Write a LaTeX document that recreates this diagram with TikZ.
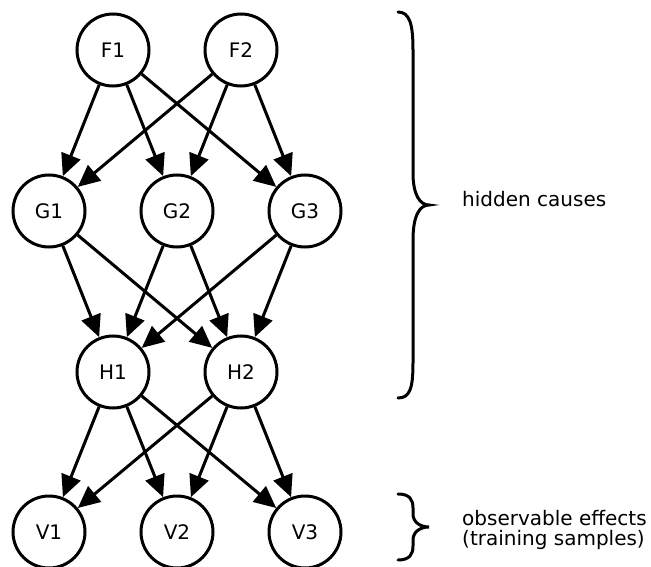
\documentclass[tikz,border=0pt]{standalone}
\usepackage{fontspec}
\setmainfont{DejaVu Sans}
\usetikzlibrary{arrows.meta}
\begin{document}
\begin{tikzpicture}[x=1pt,y=-1pt,
  unit/.style={circle,draw,line width=3pt,minimum size=72pt,inner sep=0pt,font=\fontsize{20}{24}\selectfont},
  edge/.style={line width=3pt,-{Triangle[length=22pt,width=20pt]}},
  bracepath/.style={line width=3pt,line cap=round},
  lbl/.style={font=\fontsize{20}{20}\selectfont,align=left,inner sep=0pt}]
\useasboundingbox (0,0) rectangle (651,567);
\node[unit] (F1) at (113,50) {F1};
\node[unit] (F2) at (241,50) {F2};
\node[unit] (G1) at (49,211) {G1};
\node[unit] (G2) at (177,211) {G2};
\node[unit] (G3) at (305,211) {G3};
\node[unit] (H1) at (113,372) {H1};
\node[unit] (H2) at (241,372) {H2};
\node[unit] (V1) at (49,532) {V1};
\node[unit] (V2) at (177,532) {V2};
\node[unit] (V3) at (305,532) {V3};
\foreach \a in {F1,F2}{\foreach \b in {G1,G2,G3}{\draw[edge] (\a) -- (\b);}}
\foreach \a in {G1,G2,G3}{\foreach \b in {H1,H2}{\draw[edge] (\a) -- (\b);}}
\foreach \a in {H1,H2}{\foreach \b in {V1,V2,V3}{\draw[edge] (\a) -- (\b);}}
\draw[bracepath] (398,12) .. controls (410,12) and (413,25) .. (413,50) -- (413,173)
  .. controls (413,195) and (420,205) .. (429,205)
  .. controls (420,205) and (413,215) .. (413,240) -- (413,363)
  .. controls (413,388) and (410,398) .. (398,398);
\draw[bracepath] (398,494) .. controls (410,494) and (413,500) .. (413,508) -- (413,514)
  .. controls (413,522) and (420,527) .. (429,527)
  .. controls (420,527) and (413,532) .. (413,540) -- (413,546)
  .. controls (413,554) and (410,560) .. (398,560);
\node[lbl,anchor=base west] (hc) at (462,207) {hidden causes};
\node[lbl,anchor=west] (oe) at (462,530) {observable effects\\(training samples)};
\end{tikzpicture}
\end{document}
